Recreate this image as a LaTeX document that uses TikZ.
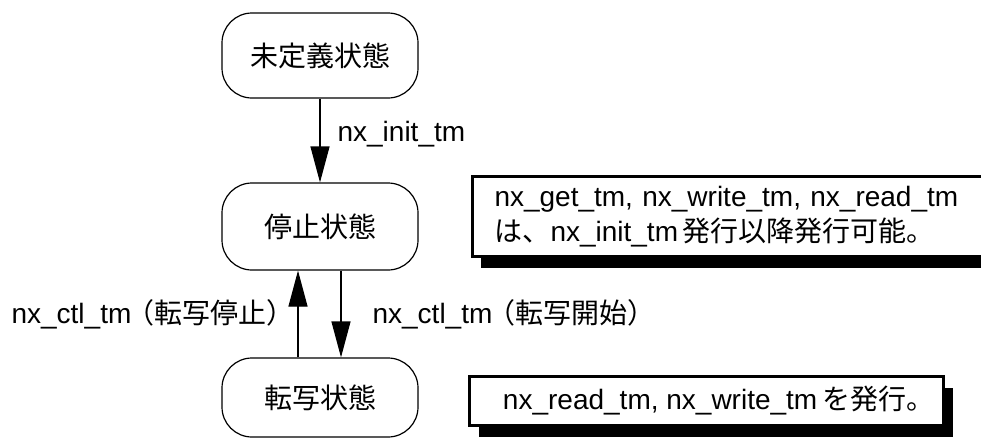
\documentclass[tikz,border=0pt]{standalone}
\usepackage{fontspec}
\setmainfont{Liberation Sans}
\newfontfamily\jafont{Noto Sans CJK JP}
\newcommand{\ja}[1]{{\jafont #1}}
\usetikzlibrary{arrows.meta, shadows}

\tikzset{
    state/.style={draw, line width=0.6pt, rounded corners=15pt,
        minimum width=98pt, inner sep=0pt},
    note/.style={draw, line width=1.5pt, fill=white, inner ysep=0pt,
        drop shadow={shadow xshift=4.5pt, shadow yshift=-5.5pt,
            fill=black, opacity=1}},
    flow/.style={line width=0.6pt, -{Triangle[length=18pt, width=9.5pt]}},
    lbl/.style={inner sep=0pt}
}

\begin{document}
\begin{tikzpicture}[x=0.5pt, y=-0.5pt, font=\fontsize{14pt}{17.5pt}\selectfont]
    \useasboundingbox (0,0) rectangle (981,440);

    % states
    \node[state, minimum height=42.5pt] (s0) at (320,55.5) {\ja{未定義状態}};
    \node[state, minimum height=43.5pt] (s1) at (320,226.5) {\ja{停止状態}};
    \node[state, minimum height=39.5pt] (s2) at (320,397.5) {\ja{転写状態}};

    % transitions
    \draw[flow] (s0) -- (s1)
        node[lbl, pos=0.42, right=8.5pt] {nx\_init\_tm};
    \draw[flow] ([xshift=-11pt]s2.north) -- ([xshift=-11pt]s1.south)
        node[lbl, midway, left=6.5pt]
        {nx\_ctl\_tm\kern-2.5pt\ja{（転写停止）}\kern-5pt};
    \draw[flow] ([xshift=10.5pt]s1.south) -- ([xshift=10.5pt]s2.north)
        node[lbl, midway, right=15.5pt]
        {nx\_ctl\_tm\kern-2.5pt\ja{（転写開始）}};

    % notes
    \node[note, anchor=west, minimum height=40pt, inner xsep=11.25pt,
        text width=250pt, align=left] (n1) at (470.5,216.5)
        {nx\_get\_tm, nx\_write\_tm, nx\_read\_tm\\
         \ja{は、}nx\_init\_tm\,\ja{発行以降発行可能。}};
    \node[note, minimum width=237pt, minimum height=24.5pt] (n2) at (706.5,401)
        {\hspace*{12pt}nx\_read\_tm, nx\_write\_tm\,\ja{を発行。}};
\end{tikzpicture}
\end{document}
